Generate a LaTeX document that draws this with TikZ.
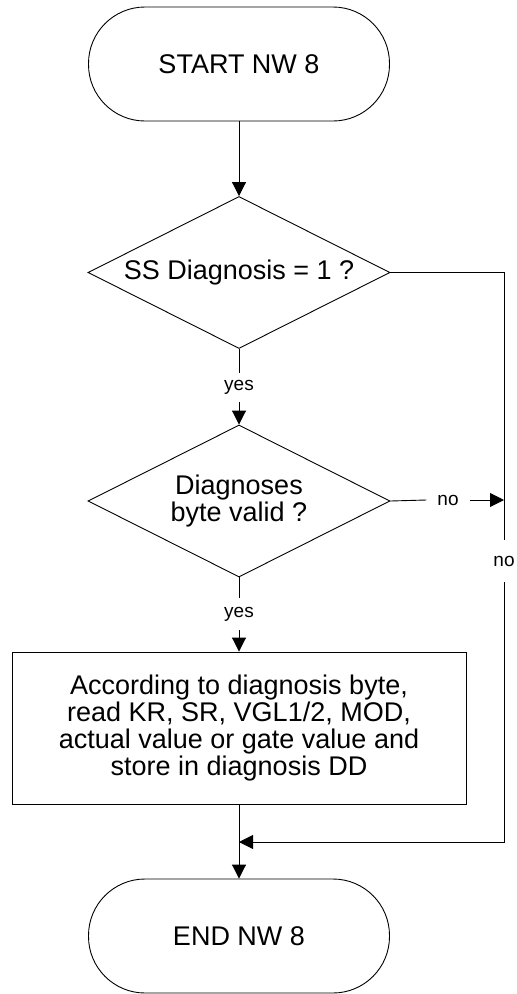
\documentclass[tikz,border=0pt]{standalone}
\usepackage{fontspec}
\setmainfont{Liberation Sans}
\usetikzlibrary{shapes.geometric,arrows.meta}
\begin{document}
\begin{tikzpicture}[x=1pt,y=1pt,
  every node/.style={font=\fontsize{27}{27}\selectfont},
  term/.style={draw, line width=0.9pt, rounded corners=56.5pt, minimum width=301pt, minimum height=114pt, inner sep=0pt},
  dec/.style={draw, diamond, line width=0.9pt, minimum width=302pt, minimum height=152pt, inner sep=0pt, aspect=2, align=center},
  proc/.style={draw, line width=0.9pt, minimum width=454pt, minimum height=152pt, inner sep=0pt, align=center},
  lbl/.style={font=\fontsize{19}{19}\selectfont, inner sep=0pt},
  conn/.style={line width=0.9pt},
  arr/.style={conn, -{Triangle[length=14pt,width=14pt]}}
]
\useasboundingbox (0,0) rectangle (517,-994);
\node[term] (start) at (239,-64) {START NW 8};
\node[dec] (d1) at (239,-272.5) {SS Diagnosis = 1 ?};
\node[dec] (d2) at (239,-501) {Diagnoses\\byte valid ?};
\node[proc] (box) at (239,-728) {According to diagnosis byte,\\read KR, SR, VGL1/2, MOD,\\actual value or gate value and\\store in diagnosis DD};
\node[term] (end) at (239,-936) {END NW 8};

\node[lbl, minimum height=29pt] (yes1) at (239,-387.5) {yes};
\node[lbl, minimum height=32pt] (yes2) at (239,-614) {yes};
\node[lbl, minimum width=43pt] (no1) at (448,-500) {no};
\node[lbl, minimum height=42pt] (no2) at (504,-561) {no};
\coordinate (j) at (504,-500);
\coordinate (m) at (239,-842);

\draw[arr] (start.south) -- (d1.north);
\draw[conn] (d1.south) -- (yes1.north);
\draw[arr] (yes1.south) -- (d2.north);
\draw[conn] (d2.south) -- (yes2.north);
\draw[arr] (yes2.south) -- (box.north);
\draw[arr] (box.south) -- (end.north);
\draw[conn] (d1.east) -| (no2.north);
\draw[arr] (no2.south) |- (m);
\draw[conn] (d2.east) -- (no1.west);
\draw[arr] (no1.east) -- (j);
\end{tikzpicture}
\end{document}
